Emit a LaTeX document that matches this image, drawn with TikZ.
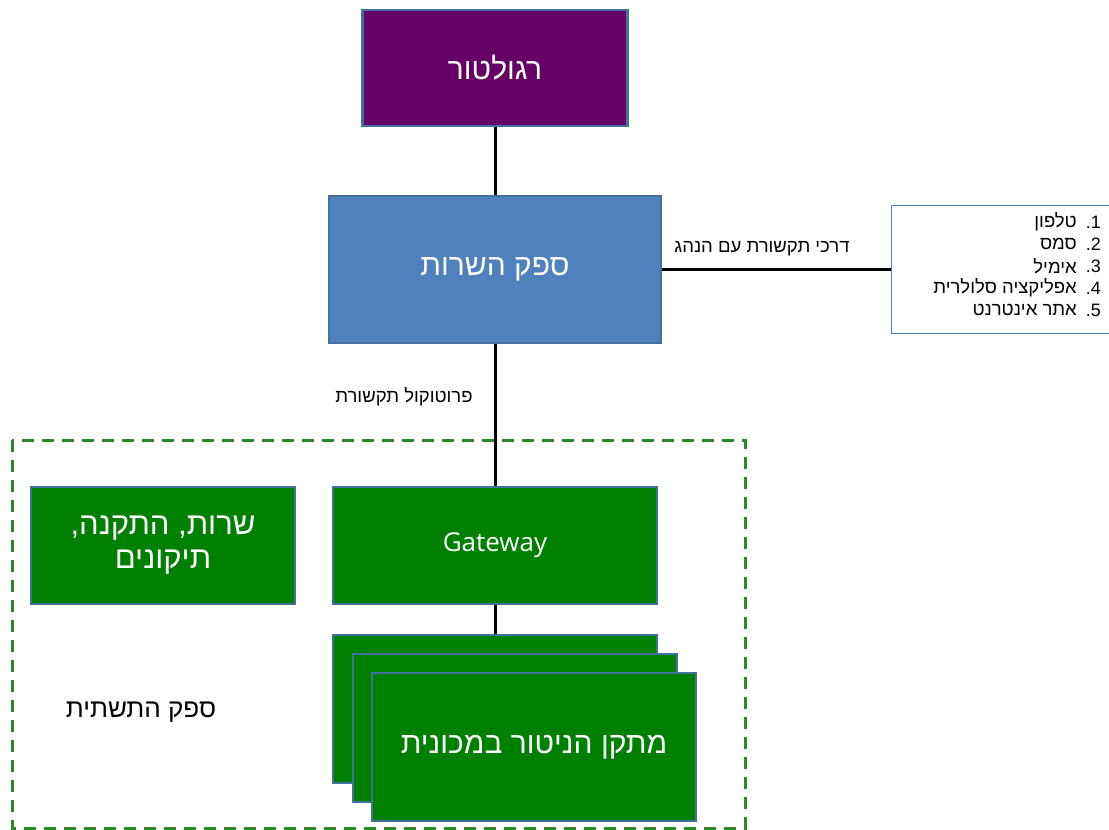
\documentclass[tikz,border=0pt]{standalone}
\usepackage{fontspec}
\setmainfont{Liberation Sans}
\newfontfamily\heb[Script=Hebrew]{Liberation Sans}
\newfontfamily\opens{Open Sans}
\TeXXeTstate=1
\definecolor{bord}{HTML}{41719C}
\definecolor{purp}{HTML}{660066}
\definecolor{blu}{HTML}{4F81BD}
\definecolor{grn}{HTML}{008000}
\definecolor{dgrn}{HTML}{2A8A2A}
\tikzset{
  box/.style={draw=bord, line width=2.5pt, text=white, align=center, inner sep=0pt},
  conn/.style={draw=black, line width=3pt},
  small/.style={font=\fontsize{18.5}{22}\selectfont\heb, inner sep=0pt},
  big/.style={font=\fontsize{30}{34}\selectfont\heb},
}
\begin{document}
\begin{tikzpicture}[x=1pt,y=-1pt]
\useasboundingbox (0,0) rectangle (1109,830);
\fill[white] (0,0) rectangle (1109,830);
% dashed frame
\draw[dgrn, line width=3pt, dash pattern=on 12pt off 8pt] (12,440) rectangle (745,828);
% nodes
\node[box, big, fill=purp, minimum width=265pt, minimum height=116pt] (reg) at (495,68) {\beginR רגולטור\endR};
\node[box, big, fill=blu, minimum width=332pt, minimum height=147pt] (sp) at (495,269.5) {\beginR ספק השרות\endR};
\node[draw=blu, line width=1pt, fill=white, minimum width=222pt, minimum height=128pt, inner sep=0pt] (list) at (1002,269.5) {};
\node[box, fill=grn, minimum width=324pt, minimum height=117pt, font=\fontsize{26}{30}\selectfont\opens] (gw) at (495,545.5) {\raisebox{-2pt}{Gateway}};
\node[box, fill=grn, minimum width=264pt, minimum height=117pt, font=\fontsize{31}{34}\selectfont\heb] (srv) at (163,545.5) {\beginR שרות, התקנה,\endR\\\beginR תיקונים\endR};
\node[box, fill=grn, minimum width=324pt, minimum height=148pt] (m1) at (495,709) {};
\node[box, fill=grn, minimum width=324pt, minimum height=148pt] (m2) at (515,728) {};
\node[box, big, fill=grn, minimum width=324pt, minimum height=148pt] (m3) at (534,747) {\beginR מתקן הניטור במכונית\endR};
\node[font=\fontsize{26}{30}\selectfont\heb, inner sep=0pt] (infra) at (141,712) {\beginR ספק התשתית\endR};
% connectors
\draw[conn] (reg.south) -- (sp.north);
\draw[conn] (sp.south) -- (gw.north);
\draw[conn] (gw.south) -- (m1.north);
\draw[conn] (sp.east) -- (list.west);
% labels
\node[small, anchor=south] (lab1) at (762,256) {\beginR דרכי תקשורת עם הנהג\endR};
\node[small] (lab2) at (404,397) {\beginR פרוטוקול תקשורת\endR};
% list items
\foreach \n/\t [count=\i] in {1/טלפון,2/סמס,3/אימיל,4/אפליקציה סלולרית,5/אתר אינטרנט}{
  \node[inner sep=0pt, font=\fontsize{18}{22}\selectfont\rmfamily, anchor=east] (num\i) at (1101,200+22*\i) {.\n};
  \node[small, anchor=east] (it\i) at (1077,200+22*\i) {\beginR \t\endR};
}
\end{tikzpicture}
\end{document}
